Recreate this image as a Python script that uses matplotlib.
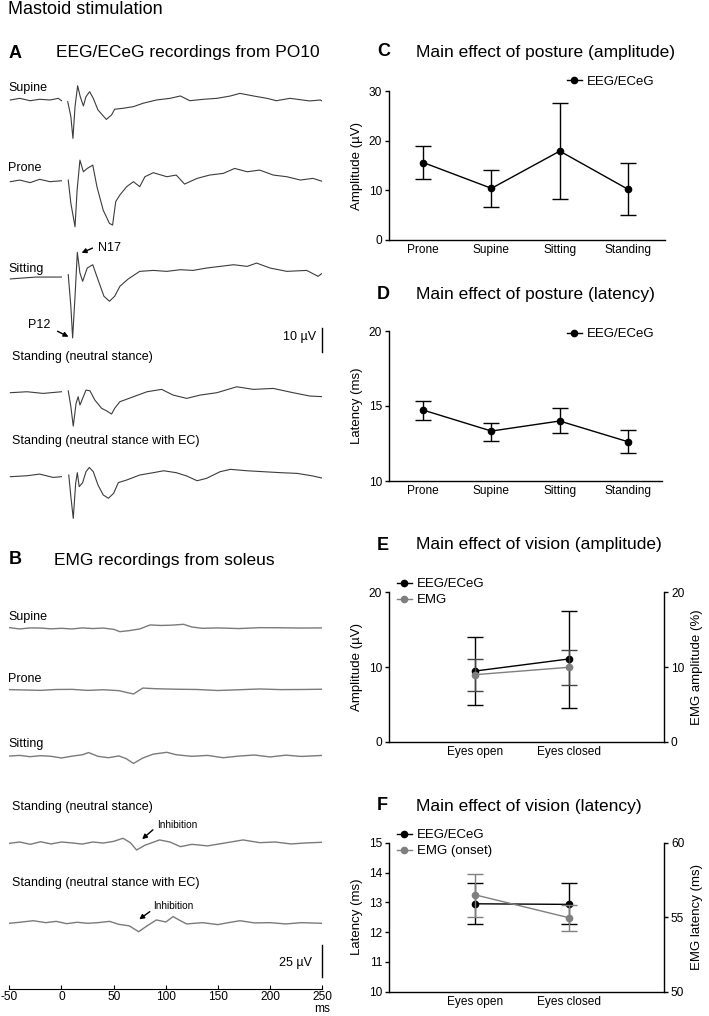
import numpy as np
import matplotlib
matplotlib.use("Agg")
import matplotlib.pyplot as plt
from matplotlib.lines import Line2D

plt.rcParams['font.family'] = ['Liberation Sans', 'DejaVu Sans']

W, H = 709, 1016
nan = np.nan

# ---------------- data: EEG/ECeG traces (ms, deflection in µV, up = positive) ----------------
supine_t = [-49, -40, -30, -21, -11, -3, 0, nan, 6, 9, 11, 13, 15.5, 18, 21, 23.5, 27, 30.5, 35, 43, 48, 51, 59, 69, 78, 91, 104, 114, 123, 136, 149, 162, 171, 184, 197, 206, 219, 238, 248, 251]
supine_v = [0, 0.7, -0.3, 0.3, 0, 0.7, -0.3, nan, -0.7, -7, -16.2, -2.8, 6.0, 1.4, -2.5, 1.4, 3.5, 0.7, -4.2, -8.2, -6.3, -3.9, -3.5, -2.8, -1.4, 0, 0.7, 1.7, -0.3, 0.3, 0.7, 1.7, 2.8, 1.7, 0.7, -0.3, 0.7, -0.4, 0, -0.7]

prone_t = [-49, -40, -30, -21, -11, 0, nan, 6.5, 9, 13, 15, 17.7, 21, 24.7, 30, 34, 40, 46, 49, 52, 56, 62.5, 69, 75, 80, 88, 101, 110, 118, 130, 142, 155, 166, 178, 190, 203, 216, 229, 241, 251]
prone_v = [0, 0.7, -0.4, 1.0, 0, 0.4, nan, 0.7, -9.1, -19, -3.5, 9.1, 4.2, 5.6, 7.0, -2.1, -12, -17.6, -18.3, -8.4, -5.6, -2.1, 0, -2.1, 2.1, 3.8, 2.1, 2.8, -1, 1.4, 2.8, 3.5, 5.6, 4.2, 4.9, 2.8, 2.1, 0.7, 1.4, 0]

sitting_t = [-49, -37, -24, -11, 0, nan, 6.5, 9, 10.7, 13, 15.2, 17.7, 20.3, 24.7, 30, 35, 40.7, 46, 51, 56, 64, 75, 88, 101, 114, 126, 139, 152, 165, 178, 187, 200, 216, 235, 246, 251]
sitting_v = [-0.4, 0, 0.4, 0.4, 0.4, nan, 1.4, -12, -25.3, -7.7, 10.8, 2.1, -1.4, 4.2, 5.6, -0.7, -7.7, -9.8, -7.7, -3.5, -0.4, 2.8, 3.2, 2.8, 3.5, 3.2, 4.2, 4.9, 5.6, 4.9, 6.3, 4.2, 2.8, 3.2, 0.7, 2.4]

stand_t = [-49, -33, -17.5, 0, nan, 6.5, 9, 11.3, 14, 16, 17.7, 20.3, 23.5, 27.3, 32, 38.5, 43, 48, 51, 56, 69, 82, 96, 107, 120, 133, 149, 168, 184, 203, 222, 238, 251]
stand_v = [0, 0.4, -0.3, 0.4, nan, 0.8, -5.9, -14.1, -4.5, -1.7, -5.2, -2.4, 1.1, 0.8, -3.1, -6.6, -7.6, -9.0, -6.6, -3.8, -1.7, 0.4, 1.4, -1, -2.4, -1, 0, 2.5, 1.4, 1.8, 0, -1.4, -1.7]

standec_t = [-49, -33, -21, -8, 0, nan, 7, 9, 11.3, 13.6, 15.2, 17, 20.3, 23.5, 26.7, 30.5, 35, 40, 45, 50, 54.5, 62.5, 75, 88, 98, 110, 120, 130, 139, 152, 162, 178, 194, 210, 226, 241, 251]
standec_v = [0, 0.4, 1.1, -0.3, 0, nan, 0.7, -8.4, -17.6, -2.8, 1.7, -4.2, -2.5, 2.1, 3.9, 2.1, -3.5, -7.7, -9.1, -7.0, -2.5, -1.4, 0.7, 1.7, 2.5, 1.7, 0.3, -1.7, -0.7, 2.1, 3.1, 2.5, 2.1, 1.7, 1.4, 0.3, -0.7]

# ---------------- data: EMG traces (ms, µV) ----------------
emg_sup_t = [-50, -40, -30, -20, -10, 0, 10, 20, 30, 40, 50, 56, 65, 75, 85, 95, 105, 117, 125, 135, 150, 170, 190, 210, 230, 250]
emg_sup_v = [0.5, -0.5, 0.3, 0.2, -0.4, 0.0, -0.5, 0.3, -0.2, 0.2, -0.8, -2.6, -1.8, -0.5, 2.6, 2.2, 2.4, 3.1, 1.0, 0.0, 0.3, -0.2, 0.5, 0.4, 0.2, 0.3]
emg_pro_t = [-50, -35, -20, -5, 10, 25, 40, 55, 62, 69, 78, 90, 110, 130, 150, 170, 190, 210, 230, 250]
emg_pro_v = [0.3, 0.0, -0.3, 0.4, 0.5, -0.3, 0.2, -0.5, -1.8, -3.1, 1.5, 1.0, 0.6, 0.4, -0.4, 0.2, 0.8, 0.3, 0.4, 0.6]
emg_sit_t = [-50, -40, -30, -20, -10, 0, 10, 20, 26, 35, 45, 55, 62, 69, 78, 88, 101, 110, 125, 140, 155, 170, 185, 200, 215, 230, 250]
emg_sit_v = [0.5, 1.0, 0.0, 0.8, 0.3, -1.0, 0.4, 1.5, 3.2, 0.3, -0.8, 0.6, -1.5, -5.2, -1.0, 2.0, 3.4, 1.5, 0.3, 1.0, -0.8, 0.5, 1.3, -0.2, 1.2, 0.2, 1.0]
emg_std_t = [-50, -40, -30, -20, -10, 0, 10, 20, 30, 40, 50, 59, 66, 72, 80, 94, 104, 114, 125, 140, 155, 174, 190, 205, 220, 235, 250]
emg_std_v = [0.0, 1.0, -0.8, 1.2, -0.5, 1.0, 0.3, -0.6, 1.0, 0.2, 1.5, 3.9, 0.5, -5.2, -1.5, 2.6, 1.0, -2.6, -0.8, -2.0, 0.0, 2.6, 0.5, 1.0, -0.5, 0.3, 0.8]
emg_ec_t = [-50, -40, -27, -15, -5, 5, 15, 25, 35, 46, 55, 65, 74, 82, 91, 100, 107, 114, 120, 135, 150, 160, 171, 185, 200, 215, 230, 250]
emg_ec_v = [0.0, 0.8, 2.0, 0.5, 1.5, -0.3, 0.8, 0.0, 0.5, 1.5, -0.8, -2.0, -6.5, -2.0, 2.6, 1.0, 5.2, 2.0, -0.5, 0.5, -1.0, 0.5, 2.0, 0.3, 0.5, -0.5, 0.5, 0.0]

# ---------------- data: summary panels ----------------
postures = ['Prone', 'Supine', 'Sitting', 'Standing']
amp_mean = [15.6, 10.4, 17.9, 10.2]
amp_lo = [12.2, 6.7, 8.2, 5.1]
amp_hi = [19.0, 14.1, 27.6, 15.5]
lat_mean = [14.73, 13.33, 14.0, 12.62]
lat_lo = [14.09, 12.67, 13.18, 11.84]
lat_hi = [15.33, 13.89, 14.89, 13.4]

vision = ['Eyes open', 'Eyes closed']
vis_amp_eeg = [9.46, 11.07]
vis_amp_eeg_lo = [4.91, 4.55]
vis_amp_eeg_hi = [14.06, 17.54]
vis_amp_emg = [8.97, 9.96]
vis_amp_emg_lo = [6.83, 7.55]
vis_amp_emg_hi = [11.07, 12.28]
vis_lat_eeg = [12.95, 12.93]
vis_lat_eeg_lo = [12.26, 12.26]
vis_lat_eeg_hi = [13.64, 13.64]
vis_lat_emg = [56.5, 54.97]
vis_lat_emg_lo = [55.0, 54.07]
vis_lat_emg_hi = [57.9, 55.8]

# ---------------- figure ----------------
fig = plt.figure(figsize=(W / 100, H / 100), dpi=100)

TICK = 8.6
LABF = 9.0
AXL = 9.5
LEGF = 9.5
TF = 12.5
LF = 13


def fx(px):
    return px / W


def fy(py):
    return 1 - py / H


def ftext(x, y, s, **kw):
    kw.setdefault('va', 'center')
    kw.setdefault('ha', 'left')
    return fig.text(fx(x), fy(y), s, **kw)


def arrow(x0, y0, x1, y1):
    fig.add_artist(matplotlib.patches.FancyArrowPatch((fx(x0), fy(y0)), (fx(x1), fy(y1)), transform=fig.transFigure,
                   arrowstyle='-|>', mutation_scale=7, lw=1, color='black'))


# Left: traces axes in pixel-y coordinates
axL = fig.add_axes([fx(9.3), fy(989.3), fx(322.3) - fx(9.3), fy(0) - fy(989.3)])
axL.set_xlim(-50, 250)
axL.set_ylim(989.3, 0)
for s in ['top', 'right', 'left']:
    axL.spines[s].set_visible(False)
axL.set_yticks([])
axL.set_xticks([-50, 0, 50, 100, 150, 200, 250])
axL.set_xticklabels(['-50', '0', '50', '100', '150', '200', '250'], fontsize=TICK)
axL.tick_params(axis='x', length=3, width=0.8, pad=1.5, direction='in')
axL.spines['bottom'].set_linewidth(0.8)
axL.patch.set_alpha(0)

EEG_SCALE = 2.37   # px per µV
EMG_SCALE = 1.29

eeg_traces = [(supine_t, supine_v, 100), (prone_t, prone_v, 181.7), (sitting_t, sitting_v, 278),
              (stand_t, stand_v, 392.7), (standec_t, standec_v, 476.7)]
for t, v, base in eeg_traces:
    axL.plot(t, base - np.array(v, dtype=float) * EEG_SCALE, color='#3c3c3c', lw=0.8)

emg_traces = [(emg_sup_t, emg_sup_v, 628.3), (emg_pro_t, emg_pro_v, 690), (emg_sit_t, emg_sit_v, 756.7),
              (emg_std_t, emg_std_v, 843.3), (emg_ec_t, emg_ec_v, 923.3)]
for t, v, base in emg_traces:
    axL.plot(t, base - np.array(v, dtype=float) * EMG_SCALE, color='#7a7a7a', lw=1.0)

# left labels
for s, x, y in [('Supine', 8, 88), ('Prone', 8, 168), ('Sitting', 8, 269),
                ('Standing (neutral stance)', 12, 357), ('Standing (neutral stance with EC)', 12, 441),
                ('Supine', 8, 617), ('Prone', 8, 679), ('Sitting', 8, 744),
                ('Standing (neutral stance)', 12, 807), ('Standing (neutral stance with EC)', 12, 883)]:
    ftext(x, y, s, fontsize=LABF)

# annotations
ftext(98, 248, 'N17', fontsize=LABF)
arrow(95, 247, 79, 254)
ftext(28, 325, 'P12', fontsize=LABF)
arrow(55, 330, 71, 338)
ftext(157, 825, 'Inhibition', fontsize=7.2)
arrow(155, 828, 140, 841)
ftext(153, 906, 'Inhibition', fontsize=7.2)
arrow(152, 910, 137, 921)

# scale bars
fig.add_artist(Line2D([fx(322), fx(322)], [fy(328), fy(351.7)], transform=fig.transFigure, color='black', lw=1))
ftext(316, 337, '10 µV', fontsize=LABF, ha='right')
fig.add_artist(Line2D([fx(321.7), fx(321.7)], [fy(945), fy(977.3)], transform=fig.transFigure, color='black', lw=1))
ftext(312, 963, '25 µV', fontsize=LABF, ha='right')
ftext(322, 1009.5, 'ms', fontsize=TICK, ha='center')

# titles
ftext(8, 10, 'Mastoid stimulation', fontsize=13)
ftext(9, 53, 'A', fontsize=LF, fontweight='bold')
ftext(56, 53, 'EEG/ECeG recordings from PO10', fontsize=TF)
ftext(9, 560, 'B', fontsize=LF, fontweight='bold')
ftext(54, 560, 'EMG recordings from soleus', fontsize=TF)
for letter, title, y in [('C', 'Main effect of posture (amplitude)', 52),
                         ('D', 'Main effect of posture (latency)', 295),
                         ('E', 'Main effect of vision (amplitude)', 545),
                         ('F', 'Main effect of vision (latency)', 806)]:
    ftext(377, y, letter, fontsize=LF, fontweight='bold')
    ftext(416, y, title, fontsize=TF)


def make_ax(left, right, top, bottom):
    ax = fig.add_axes([fx(left), fy(bottom), fx(right) - fx(left), fy(top) - fy(bottom)])
    for s in ['top', 'right']:
        ax.spines[s].set_visible(False)
    for s in ['left', 'bottom']:
        ax.spines[s].set_linewidth(1.0)
    ax.tick_params(axis='y', length=3, width=1, labelsize=TICK, pad=2)
    ax.tick_params(axis='x', length=0, labelsize=TICK, pad=3)
    ax.patch.set_alpha(0)
    return ax


def style_right(ax2):
    ax2.spines['top'].set_visible(False)
    ax2.spines['left'].set_visible(False)
    ax2.spines['bottom'].set_visible(False)
    ax2.spines['right'].set_linewidth(1.0)
    ax2.tick_params(axis='y', length=3, width=1, labelsize=TICK, pad=2)


ebkw = dict(capsize=5.5, elinewidth=1.0, capthick=1.0, marker='o', markersize=4.5, lw=1.0)
LEGKW = dict(frameon=False, fontsize=LEGF, handlelength=1.1, handletextpad=0.4, borderpad=0, borderaxespad=0,
             labelspacing=0.3)

# C
axC = make_ax(389, 665, 91, 240)
xc = np.arange(len(postures))
axC.errorbar(xc, amp_mean, yerr=[np.subtract(amp_mean, amp_lo), np.subtract(amp_hi, amp_mean)],
             color='black', **ebkw)
axC.set_xlim(-0.5, 3.54)
axC.set_ylim(0, 30)
axC.set_yticks([0, 10, 20, 30])
axC.set_xticks(xc)
axC.set_xticklabels(postures)
axC.set_ylabel('Amplitude (µV)', fontsize=AXL, labelpad=4)
axC.legend([Line2D([], [], color='black', marker='o', markersize=4.5, lw=1)], ['EEG/ECeG'],
           loc='center left', bbox_to_anchor=(fx(567), fy(82)), bbox_transform=fig.transFigure, **LEGKW)

# D
axD = make_ax(389, 662, 331, 481)
axD.errorbar(xc, lat_mean, yerr=[np.subtract(lat_mean, lat_lo), np.subtract(lat_hi, lat_mean)],
             color='black', **ebkw)
axD.set_xlim(-0.5, 3.5)
axD.set_ylim(10, 20)
axD.set_yticks([10, 15, 20])
axD.set_xticks(xc)
axD.set_xticklabels(postures)
axD.set_ylabel('Latency (ms)', fontsize=AXL, labelpad=4)
axD.legend([Line2D([], [], color='black', marker='o', markersize=4.5, lw=1)], ['EEG/ECeG'],
           loc='center left', bbox_to_anchor=(fx(567), fy(334)), bbox_transform=fig.transFigure, **LEGKW)

GRAY = '#7f7f7f'
xv = np.arange(len(vision))

# E
axE = make_ax(389, 664, 592.3, 741.7)
axE2 = axE.twinx()
style_right(axE2)
axE.errorbar(xv, vis_amp_eeg, yerr=[np.subtract(vis_amp_eeg, vis_amp_eeg_lo), np.subtract(vis_amp_eeg_hi, vis_amp_eeg)],
             color='black', **ebkw, zorder=3)
axE2.errorbar(xv, vis_amp_emg, yerr=[np.subtract(vis_amp_emg, vis_amp_emg_lo), np.subtract(vis_amp_emg_hi, vis_amp_emg)],
              color=GRAY, ecolor='#444444', **ebkw, zorder=2)
for a in (axE, axE2):
    a.set_xlim(-0.92, 2.02)
    a.set_ylim(0, 20)
    a.set_yticks([0, 10, 20])
axE.set_xticks(xv)
axE.set_xticklabels(vision)
axE.set_ylabel('Amplitude (µV)', fontsize=AXL, labelpad=4)
axE2.set_ylabel('EMG amplitude (%)', fontsize=AXL, labelpad=5)
axE.legend([Line2D([], [], color='black', marker='o', markersize=4.5, lw=1),
            Line2D([], [], color=GRAY, marker='o', markersize=4.5, lw=1)], ['EEG/ECeG', 'EMG'],
           loc='upper left', bbox_to_anchor=(fx(397), fy(578)), bbox_transform=fig.transFigure, **LEGKW)

# F
axF = make_ax(389, 664, 842.7, 991.7)
axF2 = axF.twinx()
style_right(axF2)
axF.errorbar(xv, vis_lat_eeg, yerr=[np.subtract(vis_lat_eeg, vis_lat_eeg_lo), np.subtract(vis_lat_eeg_hi, vis_lat_eeg)],
             color='black', **ebkw, zorder=3)
axF2.errorbar(xv, vis_lat_emg, yerr=[np.subtract(vis_lat_emg, vis_lat_emg_lo), np.subtract(vis_lat_emg_hi, vis_lat_emg)],
              color=GRAY, **ebkw, zorder=2)
for a in (axF, axF2):
    a.set_xlim(-0.92, 2.02)
axF.set_ylim(10, 15)
axF.set_yticks([10, 11, 12, 13, 14, 15])
axF2.set_ylim(50, 60)
axF2.set_yticks([50, 55, 60])
axF.set_xticks(xv)
axF.set_xticklabels(vision)
axF.set_ylabel('Latency (ms)', fontsize=AXL, labelpad=4)
axF2.set_ylabel('EMG latency (ms)', fontsize=AXL, labelpad=5)
axF.legend([Line2D([], [], color='black', marker='o', markersize=4.5, lw=1),
            Line2D([], [], color=GRAY, marker='o', markersize=4.5, lw=1)], ['EEG/ECeG', 'EMG (onset)'],
           loc='upper left', bbox_to_anchor=(fx(397), fy(829)), bbox_transform=fig.transFigure, **LEGKW)

fig.savefig('out.png', dpi=100)
